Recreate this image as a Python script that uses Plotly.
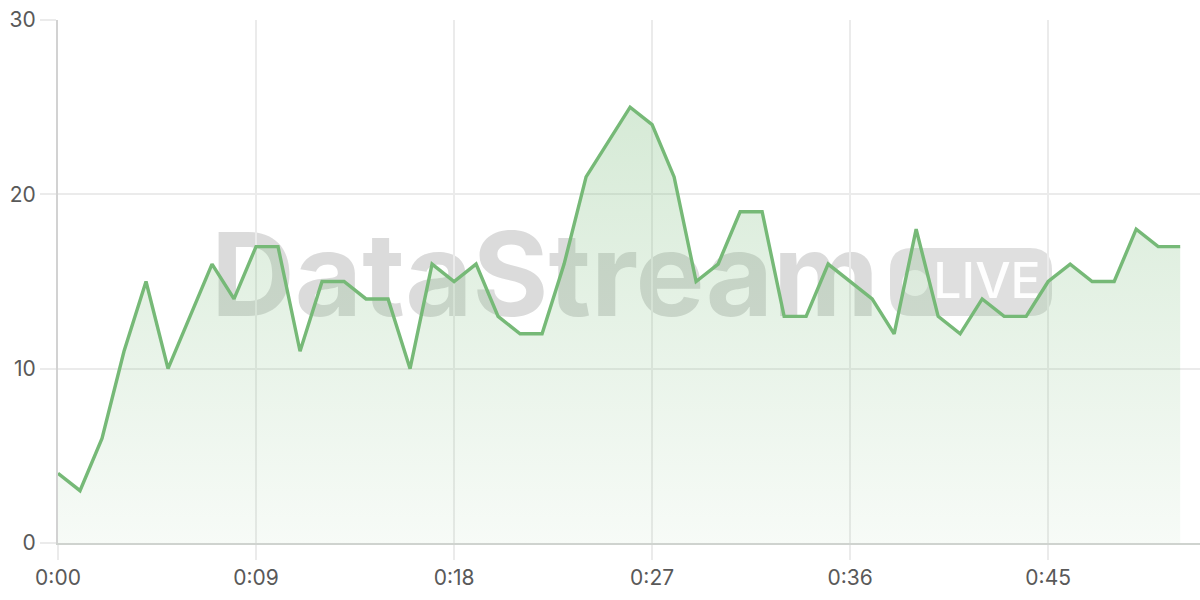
import plotly.graph_objects as go

# seconds since start and the stream value at each second
seconds = list(range(52))
values = [4, 3, 6, 11, 15, 10, 13, 16, 14, 17, 17, 11, 15, 15, 14, 14, 10, 16, 15, 16,
          13, 12, 12, 16, 21, 23, 25, 24, 21, 15, 16, 19, 19, 13, 13, 16, 15, 14, 12, 18,
          13, 12, 14, 13, 13, 15, 16, 15, 15, 18, 17, 17]

tick_vals = [0, 9, 18, 27, 36, 45]
tick_text = ["0:00", "0:09", "0:18", "0:27", "0:36", "0:45"]

W, H = 1200, 600
ML, MR, MT, MB = 58, 0, 20, 57
PW, PH = W - ML - MR, H - MT - MB


def px(x):
    return (x - ML) / PW


def py(y):
    return 1 - (y - MT) / PH


def pill(x0, y0, x1, y1, r):
    # rounded rectangle path in paper coords from pixel coords
    rx, ry = r / PW, r / PH
    a, b, c, d = px(x0), px(x1), py(y1), py(y0)
    return (f"M {a+rx},{c} L {b-rx},{c} Q {b},{c} {b},{c+ry} L {b},{d-ry} Q {b},{d} {b-rx},{d} "
            f"L {a+rx},{d} Q {a},{d} {a},{d-ry} L {a},{c+ry} Q {a},{c} {a+rx},{c} Z")


fig = go.Figure()
fig.add_trace(go.Scatter(
    x=seconds, y=values, mode="lines",
    line=dict(color="#76b977", width=3.4),
    fill="tozeroy",
    fillgradient=dict(type="vertical", start=0, stop=25,
                      colorscale=[[0, "rgba(118,185,119,0.06)"], [1, "rgba(118,185,119,0.30)"]]),
    hoverinfo="skip",
))

fig.update_layout(
    width=W, height=H,
    margin=dict(l=ML, r=MR, t=MT, b=MB, autoexpand=False),
    paper_bgcolor="white", plot_bgcolor="white",
    showlegend=False,
    font=dict(family="Inter", color="#595959", size=21),
    xaxis=dict(range=[0, 51.9], tickvals=tick_vals, ticktext=tick_text,
               showgrid=True, gridcolor="#ebebeb", gridwidth=1.5,
               showline=True, linecolor="#cfd3cf", linewidth=2,
               ticks="outside", ticklen=15, tickcolor="#ebebeb", tickwidth=1.5,
               zeroline=False, fixedrange=True, automargin=False),
    yaxis=dict(range=[0, 30], tickvals=[0, 10, 20, 30],
               showgrid=True, gridcolor="#ebebeb", gridwidth=1.5,
               showline=True, linecolor="#d2d2d2", linewidth=2,
               ticks="outside", ticklen=16, tickcolor="#ebebeb", tickwidth=1.5,
               zeroline=False, fixedrange=True, automargin=False),
    shapes=[
        dict(type="rect", xref="paper", yref="paper", layer="between",
             x0=px(205), x1=px(885), y0=py(318), y1=py(222),
             line=dict(width=0), fillcolor="rgba(0,0,0,0)",
             label=dict(text="<b>DataStream</b>", textposition="middle center",
                        font=dict(family="Inter", size=116, color="rgba(170,170,170,0.42)"))),
        dict(type="path", xref="paper", yref="paper", layer="between",
             path=pill(890, 248, 1052, 316, 22),
             line=dict(width=0), fillcolor="rgba(150,150,150,0.30)"),
        dict(type="circle", xref="paper", yref="paper", layer="between",
             x0=px(902), x1=px(928), y0=py(296), y1=py(270),
             line=dict(width=0), fillcolor="rgba(255,255,255,0.75)"),
        dict(type="rect", xref="paper", yref="paper", layer="between",
             x0=px(934), x1=px(1040), y0=py(300), y1=py(256),
             line=dict(width=0), fillcolor="rgba(0,0,0,0)",
             label=dict(text="LIVE", textposition="middle center",
                        font=dict(family="Inter", size=50, weight=500,
                                  color="rgba(255,255,255,0.95)"))),
    ],
)

fig.write_html("out.html", config={"displayModeBar": False},
               post_script="document.body.style.margin='0';document.body.style.overflow='hidden';")
